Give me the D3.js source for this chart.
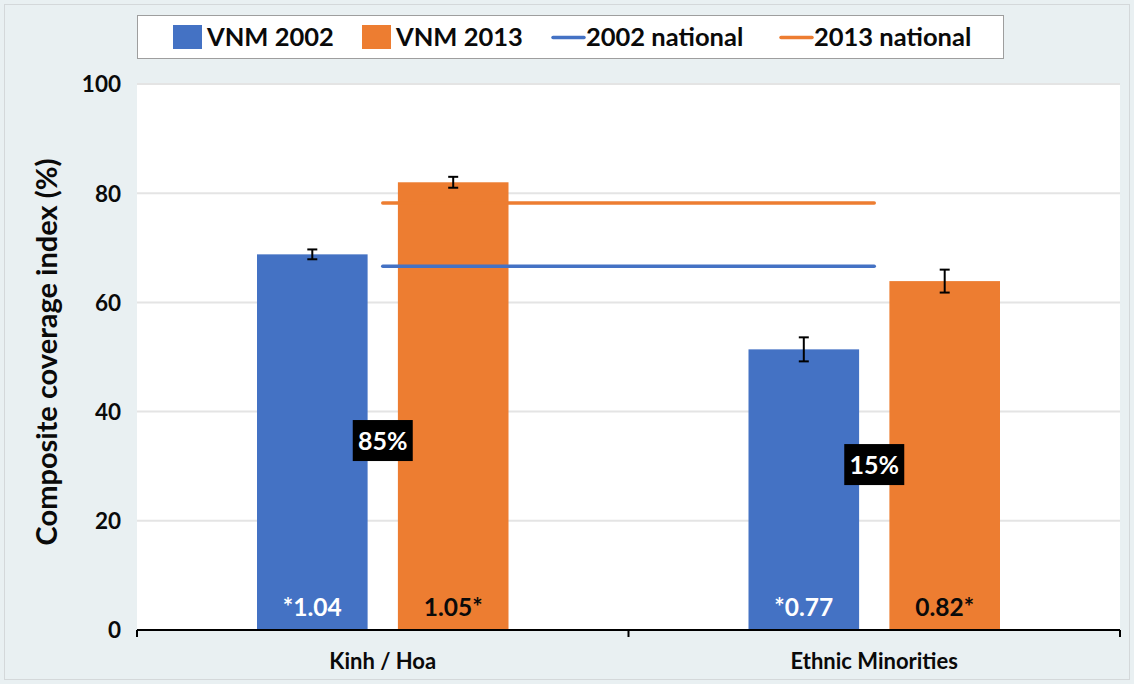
<!DOCTYPE html>
<html>
<head>
<meta charset="utf-8">
<script src="https://cdn.jsdelivr.net/npm/d3@7"></script>
<style>
  html, body { margin: 0; padding: 0; background: #e9f0f2; }
  svg { display: block; }
  text { font-family: Lato, "Open Sans", sans-serif; font-weight: bold; }
</style>
</head>
<body>
<svg id="chart" width="1134" height="684"></svg>
<script>
const categories = ["Kinh / Hoa", "Ethnic Minorities"];
const seriesNames = ["VNM 2002", "VNM 2013"];
const lineNames = ["2002 national", "2013 national"];
const values2002 = [68.8, 51.4];
const values2013 = [82.0, 63.9];
const err2002 = [0.9, 2.2];
const err2013 = [1.0, 2.1];
const national2002 = [66.6, 66.6];
const national2013 = [78.2, 78.2];
const ratio2002 = ["*1.04", "*0.77"];
const ratio2013 = ["1.05*", "0.82*"];
const shareLabels = ["85%", "15%"];
const shareLabelPos = [34.7, 30.3];
const yTicks = [0, 20, 40, 60, 80, 100];

const colors = { "VNM 2002": "#4472c4", "VNM 2013": "#ed7d31" };

const svg = d3.select("#chart");
const W = 1134, H = 684;

// outer background and border
svg.append("rect").attr("x", 0).attr("y", 0).attr("width", W).attr("height", H).attr("fill", "#e9f0f2");
svg.append("rect").attr("x", 4.5).attr("y", 4.5).attr("width", W - 9).attr("height", H - 9)
  .attr("fill", "none").attr("stroke", "#d4d8da").attr("stroke-width", 1);

const plot = { left: 137, right: 1120, top: 84, bottom: 630 };

const x0 = d3.scaleBand().domain(categories).range([plot.left, plot.right]).padding(0);
const x1 = d3.scaleBand().domain(seriesNames)
  .range([120, x0.bandwidth() - 120]).paddingInner(0.215).paddingOuter(0);
const y = d3.scaleLinear().domain([0, 100]).range([plot.bottom, plot.top]);

// plot area
svg.append("rect").attr("x", plot.left).attr("y", plot.top)
  .attr("width", plot.right - plot.left).attr("height", plot.bottom - plot.top).attr("fill", "#ffffff");

// gridlines
svg.append("g").selectAll("line").data(yTicks.filter(d => d > 0)).join("line")
  .attr("x1", plot.left).attr("x2", plot.right)
  .attr("y1", d => y(d)).attr("y2", d => y(d))
  .attr("stroke", "#e4e4e4").attr("stroke-width", 2);

// y tick labels
const yAxis = d3.axisLeft(y).tickValues(yTicks).tickSize(0).tickPadding(16);
const gy = svg.append("g").attr("transform", `translate(${plot.left},0)`).call(yAxis);
gy.select(".domain").remove();
gy.selectAll("text").attr("font-size", 22.5).attr("fill", "#0a0a0a").attr("dy", "0.35em")
  .style("font-family", "Lato, 'Open Sans', sans-serif").style("font-weight", "bold");

// y title
svg.append("text")
  .attr("transform", `translate(57,${(plot.top + plot.bottom) / 2 - 5}) rotate(-90)`)
  .attr("text-anchor", "middle").attr("font-size", 29).attr("fill", "#0a0a0a")
  .text("Composite coverage index (%)");

// bars data
const barData = [];
categories.forEach((c, i) => {
  barData.push({ cat: c, series: "VNM 2002", value: values2002[i], err: err2002[i], label: ratio2002[i], labelColor: "#ffffff" });
  barData.push({ cat: c, series: "VNM 2013", value: values2013[i], err: err2013[i], label: ratio2013[i], labelColor: "#0a0a0a" });
});

const bx = d => x0(d.cat) + x1(d.series);

svg.append("g").selectAll("rect").data(barData).join("rect")
  .attr("x", bx).attr("width", x1.bandwidth())
  .attr("y", d => y(d.value)).attr("height", d => y(0) - y(d.value))
  .attr("fill", d => colors[d.series]);

// national lines
const lineGen = d3.line().x(d => d.x).y(d => y(d.v));
[[national2002, "VNM 2002"], [national2013, "VNM 2013"]].forEach(([arr, s]) => {
  const pts = categories.map((c, i) => ({ x: x0(c) + x0.bandwidth() / 2, v: arr[i] }));
  svg.append("path").attr("d", lineGen(pts)).attr("fill", "none")
    .attr("stroke", colors[s]).attr("stroke-width", 3.5).attr("stroke-linecap", "round");
});

// error bars
const eg = svg.append("g").attr("stroke", "#000").attr("stroke-width", 2);
barData.forEach(d => {
  const cx = bx(d) + x1.bandwidth() / 2;
  eg.append("line").attr("x1", cx).attr("x2", cx).attr("y1", y(d.value + d.err)).attr("y2", y(d.value - d.err));
  eg.append("line").attr("x1", cx - 5).attr("x2", cx + 5).attr("y1", y(d.value + d.err)).attr("y2", y(d.value + d.err));
  eg.append("line").attr("x1", cx - 5).attr("x2", cx + 5).attr("y1", y(d.value - d.err)).attr("y2", y(d.value - d.err));
});

// ratio labels at bar base
svg.append("g").selectAll("text").data(barData).join("text")
  .attr("x", d => bx(d) + x1.bandwidth() / 2).attr("y", y(0) - 14)
  .attr("text-anchor", "middle").attr("font-size", 24.5).attr("fill", d => d.labelColor)
  .text(d => d.label);

// share labels (black boxes)
categories.forEach((c, i) => {
  const cx = x0(c) + x0.bandwidth() / 2;
  const cy = y(shareLabelPos[i]);
  const g = svg.append("g");
  g.append("rect").attr("x", cx - 30).attr("y", cy - 20.5).attr("width", 60).attr("height", 41).attr("fill", "#000");
  g.append("text").attr("x", cx).attr("y", cy).attr("dy", "0.36em")
    .attr("text-anchor", "middle").attr("font-size", 25).attr("fill", "#fff").text(shareLabels[i]);
});

// x axis
const xAxisG = svg.append("g");
xAxisG.append("line").attr("x1", plot.left).attr("x2", plot.right).attr("y1", plot.bottom).attr("y2", plot.bottom)
  .attr("stroke", "#000").attr("stroke-width", 2);
const tickXs = [plot.left].concat(categories.map(c => x0(c) + x0.bandwidth()));
xAxisG.selectAll("line.tick").data(tickXs).join("line").attr("class", "tick")
  .attr("x1", d => d).attr("x2", d => d).attr("y1", plot.bottom).attr("y2", plot.bottom + 7)
  .attr("stroke", "#000").attr("stroke-width", 2);
xAxisG.selectAll("text").data(categories).join("text")
  .attr("x", c => x0(c) + x0.bandwidth() / 2).attr("y", 669)
  .attr("text-anchor", "middle").attr("font-size", 22).attr("fill", "#0a0a0a").text(c => c);

// legend
const leg = svg.append("g");
leg.append("rect").attr("x", 137.5).attr("y", 15.5).attr("width", 866).attr("height", 43)
  .attr("fill", "#fff").attr("stroke", "#9e9e9e").attr("stroke-width", 1);
const legItems = [
  { name: seriesNames[0], type: "rect", color: colors["VNM 2002"], x: 173 },
  { name: seriesNames[1], type: "rect", color: colors["VNM 2013"], x: 362 },
  { name: lineNames[0], type: "line", color: colors["VNM 2002"], x: 552 },
  { name: lineNames[1], type: "line", color: colors["VNM 2013"], x: 780 }
];
legItems.forEach(it => {
  if (it.type === "rect") {
    leg.append("rect").attr("x", it.x).attr("y", 25).attr("width", 29).attr("height", 24).attr("fill", it.color);
  } else {
    leg.append("line").attr("x1", it.x + 1).attr("x2", it.x + 32).attr("y1", 37.5).attr("y2", 37.5)
      .attr("stroke", it.color).attr("stroke-width", 3.5).attr("stroke-linecap", "round");
  }
  leg.append("text").attr("x", it.x + 34).attr("y", 46).attr("font-size", 25.5).attr("fill", "#0a0a0a").text(it.name);
});
</script>
</body>
</html>
